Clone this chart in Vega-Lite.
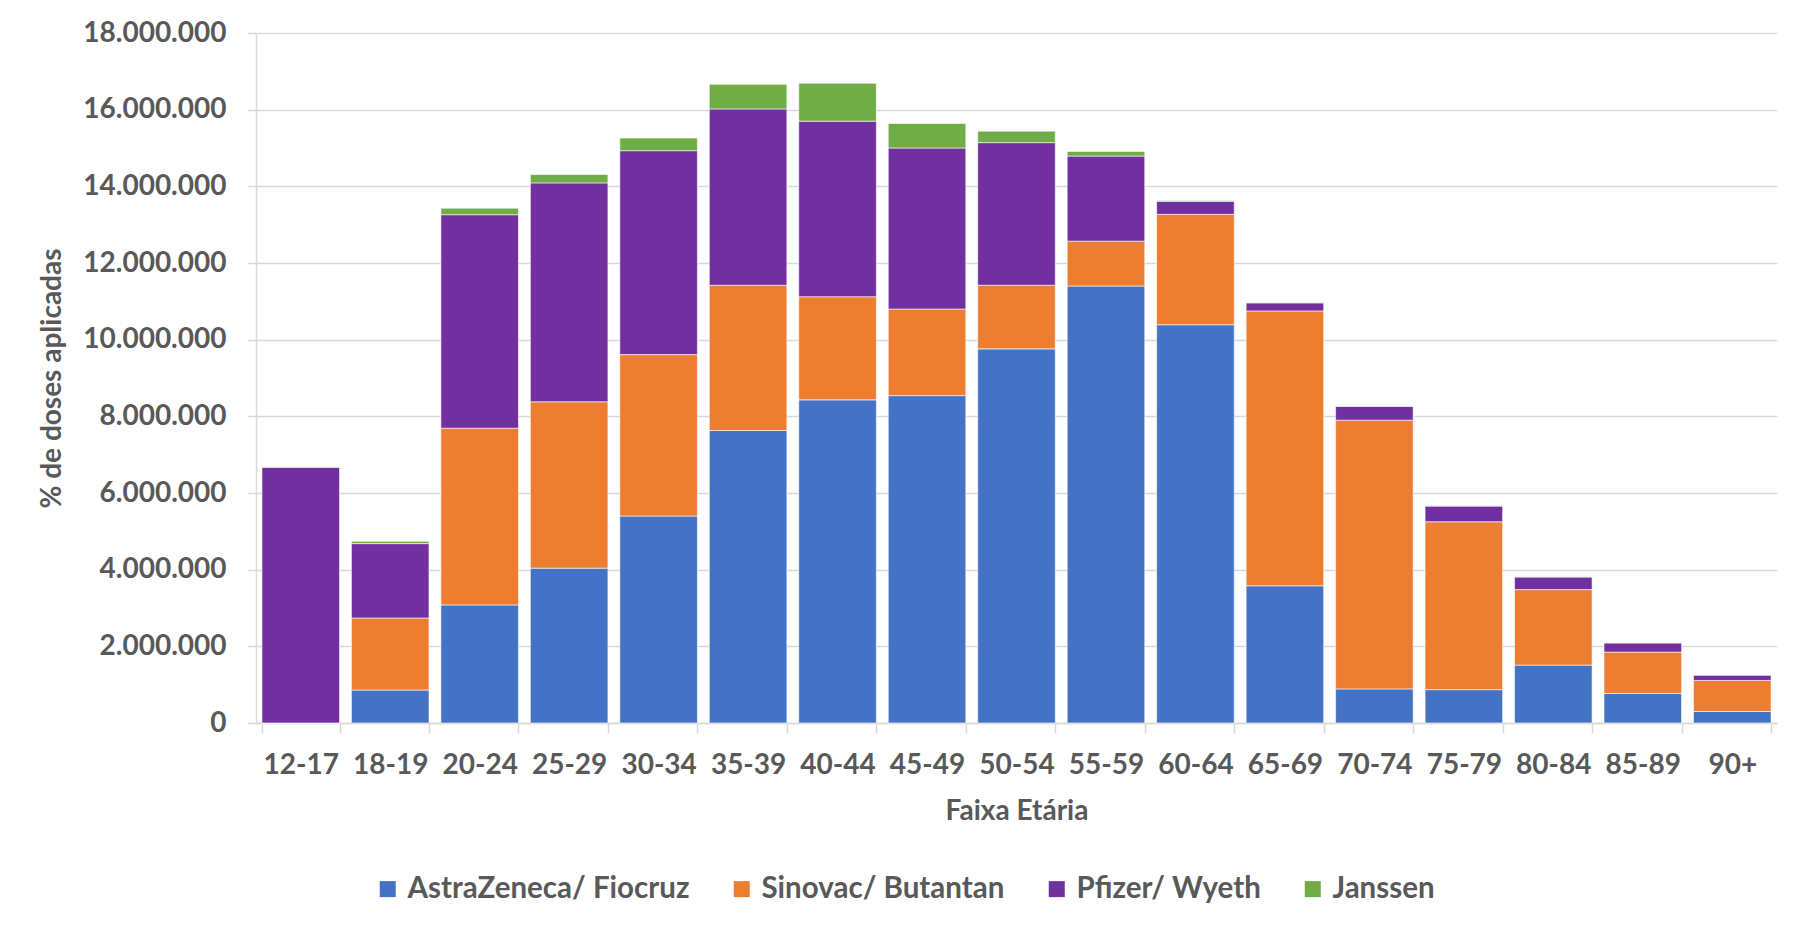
{
  "$schema": "https://vega.github.io/schema/vega-lite/v6.json",
  "width": 1521,
  "height": 690,
  "autosize": {"type": "none"},
  "padding": {"left": 256, "top": 33, "right": 29, "bottom": 208},
  "background": "white",
  "config": {
    "locale": {"number": {"decimal": ",", "thousands": ".", "grouping": [3], "currency": ["R$", ""]}},
    "font": "Lato",
    "view": {"stroke": null}
  },
  "data": {
    "values": [
      {"faixa": "12-17", "vacina": "AstraZeneca/ Fiocruz", "doses": 0},
      {"faixa": "12-17", "vacina": "Sinovac/ Butantan", "doses": 0},
      {"faixa": "12-17", "vacina": "Pfizer/ Wyeth", "doses": 6670000},
      {"faixa": "12-17", "vacina": "Janssen", "doses": 15000},
      {"faixa": "18-19", "vacina": "AstraZeneca/ Fiocruz", "doses": 860000},
      {"faixa": "18-19", "vacina": "Sinovac/ Butantan", "doses": 1880000},
      {"faixa": "18-19", "vacina": "Pfizer/ Wyeth", "doses": 1940000},
      {"faixa": "18-19", "vacina": "Janssen", "doses": 60000},
      {"faixa": "20-24", "vacina": "AstraZeneca/ Fiocruz", "doses": 3080000},
      {"faixa": "20-24", "vacina": "Sinovac/ Butantan", "doses": 4610000},
      {"faixa": "20-24", "vacina": "Pfizer/ Wyeth", "doses": 5570000},
      {"faixa": "20-24", "vacina": "Janssen", "doses": 170000},
      {"faixa": "25-29", "vacina": "AstraZeneca/ Fiocruz", "doses": 4040000},
      {"faixa": "25-29", "vacina": "Sinovac/ Butantan", "doses": 4340000},
      {"faixa": "25-29", "vacina": "Pfizer/ Wyeth", "doses": 5710000},
      {"faixa": "25-29", "vacina": "Janssen", "doses": 220000},
      {"faixa": "30-34", "vacina": "AstraZeneca/ Fiocruz", "doses": 5400000},
      {"faixa": "30-34", "vacina": "Sinovac/ Butantan", "doses": 4210000},
      {"faixa": "30-34", "vacina": "Pfizer/ Wyeth", "doses": 5320000},
      {"faixa": "30-34", "vacina": "Janssen", "doses": 330000},
      {"faixa": "35-39", "vacina": "AstraZeneca/ Fiocruz", "doses": 7630000},
      {"faixa": "35-39", "vacina": "Sinovac/ Butantan", "doses": 3790000},
      {"faixa": "35-39", "vacina": "Pfizer/ Wyeth", "doses": 4600000},
      {"faixa": "35-39", "vacina": "Janssen", "doses": 640000},
      {"faixa": "40-44", "vacina": "AstraZeneca/ Fiocruz", "doses": 8430000},
      {"faixa": "40-44", "vacina": "Sinovac/ Butantan", "doses": 2690000},
      {"faixa": "40-44", "vacina": "Pfizer/ Wyeth", "doses": 4580000},
      {"faixa": "40-44", "vacina": "Janssen", "doses": 990000},
      {"faixa": "45-49", "vacina": "AstraZeneca/ Fiocruz", "doses": 8540000},
      {"faixa": "45-49", "vacina": "Sinovac/ Butantan", "doses": 2260000},
      {"faixa": "45-49", "vacina": "Pfizer/ Wyeth", "doses": 4200000},
      {"faixa": "45-49", "vacina": "Janssen", "doses": 640000},
      {"faixa": "50-54", "vacina": "AstraZeneca/ Fiocruz", "doses": 9760000},
      {"faixa": "50-54", "vacina": "Sinovac/ Butantan", "doses": 1660000},
      {"faixa": "50-54", "vacina": "Pfizer/ Wyeth", "doses": 3720000},
      {"faixa": "50-54", "vacina": "Janssen", "doses": 300000},
      {"faixa": "55-59", "vacina": "AstraZeneca/ Fiocruz", "doses": 11400000},
      {"faixa": "55-59", "vacina": "Sinovac/ Butantan", "doses": 1170000},
      {"faixa": "55-59", "vacina": "Pfizer/ Wyeth", "doses": 2220000},
      {"faixa": "55-59", "vacina": "Janssen", "doses": 120000},
      {"faixa": "60-64", "vacina": "AstraZeneca/ Fiocruz", "doses": 10390000},
      {"faixa": "60-64", "vacina": "Sinovac/ Butantan", "doses": 2880000},
      {"faixa": "60-64", "vacina": "Pfizer/ Wyeth", "doses": 340000},
      {"faixa": "60-64", "vacina": "Janssen", "doses": 20000},
      {"faixa": "65-69", "vacina": "AstraZeneca/ Fiocruz", "doses": 3580000},
      {"faixa": "65-69", "vacina": "Sinovac/ Butantan", "doses": 7170000},
      {"faixa": "65-69", "vacina": "Pfizer/ Wyeth", "doses": 210000},
      {"faixa": "65-69", "vacina": "Janssen", "doses": 10000},
      {"faixa": "70-74", "vacina": "AstraZeneca/ Fiocruz", "doses": 890000},
      {"faixa": "70-74", "vacina": "Sinovac/ Butantan", "doses": 7010000},
      {"faixa": "70-74", "vacina": "Pfizer/ Wyeth", "doses": 360000},
      {"faixa": "70-74", "vacina": "Janssen", "doses": 10000},
      {"faixa": "75-79", "vacina": "AstraZeneca/ Fiocruz", "doses": 870000},
      {"faixa": "75-79", "vacina": "Sinovac/ Butantan", "doses": 4380000},
      {"faixa": "75-79", "vacina": "Pfizer/ Wyeth", "doses": 410000},
      {"faixa": "75-79", "vacina": "Janssen", "doses": 5000},
      {"faixa": "80-84", "vacina": "AstraZeneca/ Fiocruz", "doses": 1510000},
      {"faixa": "80-84", "vacina": "Sinovac/ Butantan", "doses": 1970000},
      {"faixa": "80-84", "vacina": "Pfizer/ Wyeth", "doses": 330000},
      {"faixa": "80-84", "vacina": "Janssen", "doses": 5000},
      {"faixa": "85-89", "vacina": "AstraZeneca/ Fiocruz", "doses": 770000},
      {"faixa": "85-89", "vacina": "Sinovac/ Butantan", "doses": 1080000},
      {"faixa": "85-89", "vacina": "Pfizer/ Wyeth", "doses": 240000},
      {"faixa": "85-89", "vacina": "Janssen", "doses": 3000},
      {"faixa": "90+", "vacina": "AstraZeneca/ Fiocruz", "doses": 300000},
      {"faixa": "90+", "vacina": "Sinovac/ Butantan", "doses": 810000},
      {"faixa": "90+", "vacina": "Pfizer/ Wyeth", "doses": 140000},
      {"faixa": "90+", "vacina": "Janssen", "doses": 2000}
    ]
  },
  "transform": [
    {"calculate": "indexof(['AstraZeneca/ Fiocruz','Sinovac/ Butantan','Pfizer/ Wyeth','Janssen'], datum.vacina)", "as": "ordem"}
  ],
  "mark": {"type": "bar", "stroke": "white", "strokeWidth": 0.6},
  "encoding": {
    "x": {
      "field": "faixa",
      "type": "nominal",
      "sort": null,
      "scale": {"paddingInner": 0.133, "paddingOuter": 0.0665},
      "axis": {
        "title": "Faixa Etária",
        "labelAngle": 0,
        "labelFont": "Lato",
        "labelFontWeight": "bold",
        "labelFontSize": 28,
        "labelColor": "#595959",
        "labelPadding": 18,
        "titleFont": "Lato",
        "titleFontWeight": "bold",
        "titleFontSize": 28,
        "titleColor": "#595959",
        "titlePadding": 18,
        "domainColor": "#d9d9d9",
        "domainWidth": 1.5,
        "tickColor": "#d9d9d9",
        "tickWidth": 1.5,
        "tickSize": 10,
        "tickBand": "extent",
        "grid": false
      }
    },
    "y": {
      "field": "doses",
      "type": "quantitative",
      "stack": "zero",
      "scale": {"domain": [0, 18000000], "nice": false},
      "axis": {
        "title": "% de doses aplicadas",
        "values": [0, 2000000, 4000000, 6000000, 8000000, 10000000, 12000000, 14000000, 16000000, 18000000],
        "format": ",d",
        "labelFont": "Lato",
        "labelFontWeight": "bold",
        "labelFontSize": 28,
        "labelColor": "#595959",
        "labelPadding": 21,
        "titleFont": "Lato",
        "titleFontWeight": "bold",
        "titleFontSize": 28,
        "titleColor": "#595959",
        "titlePadding": 16,
        "grid": true,
        "gridColor": "#d9d9d9",
        "gridWidth": 1.5,
        "domainColor": "#d9d9d9",
        "domainWidth": 1.5,
        "tickColor": "#d9d9d9",
        "tickWidth": 1.5,
        "tickSize": 9
      }
    },
    "color": {
      "field": "vacina",
      "type": "nominal",
      "scale": {
        "domain": ["AstraZeneca/ Fiocruz", "Sinovac/ Butantan", "Pfizer/ Wyeth", "Janssen"],
        "range": ["#4472C4", "#ED7D31", "#7030A0", "#70AD47"]
      },
      "legend": {
        "title": null,
        "orient": "none",
        "legendX": 117,
        "legendY": 841,
        "direction": "horizontal",
        "symbolType": "square",
        "symbolSize": 256,
        "symbolStrokeWidth": 0,
        "labelFont": "Lato",
        "labelFontWeight": "bold",
        "labelFontSize": 29.5,
        "labelColor": "#595959",
        "labelOffset": 5,
        "columnPadding": 37,
        "labelLimit": 0
      }
    },
    "order": {"field": "ordem", "type": "quantitative"}
  }
}
